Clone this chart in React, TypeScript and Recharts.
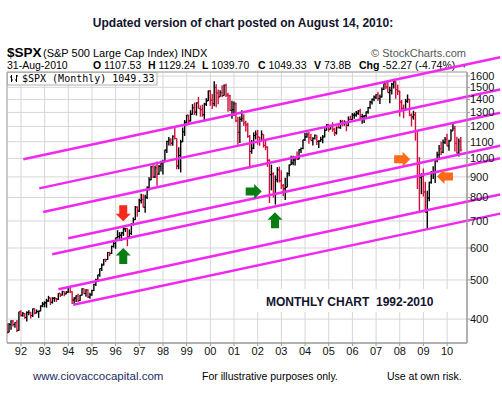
import {
  ComposedChart,
  Bar,
  XAxis,
  YAxis,
  CartesianGrid,
  ReferenceLine,
  ReferenceDot,
  ReferenceArea,
} from "recharts";

// first bar is June 1991, one bar per month up to Aug 2010
const startYear = 1991;
const startMonth = 6;
const firstOpen = 389.83;

const closes = [
  371.16, 387.81, 395.43, 387.86, 392.46, 375.22, 417.09,
  408.79, 412.7, 403.69, 414.95, 415.35, 408.14, 424.21, 414.03, 417.8, 418.68, 431.35, 435.71,
  438.78, 443.38, 451.67, 440.19, 450.19, 450.53, 448.13, 463.56, 458.93, 467.83, 461.79, 466.45,
  481.61, 467.14, 445.77, 450.91, 456.5, 444.27, 458.26, 475.49, 462.69, 472.35, 453.69, 459.27,
  470.42, 487.39, 500.71, 514.71, 533.4, 544.75, 562.06, 561.88, 584.41, 581.5, 605.37, 615.93,
  636.02, 640.43, 645.5, 654.17, 669.12, 670.63, 639.95, 651.99, 687.31, 705.27, 757.02, 740.74,
  786.16, 790.82, 757.12, 801.34, 848.28, 885.14, 954.31, 899.47, 947.28, 914.62, 955.4, 970.43,
  980.28, 1049.34, 1101.75, 1111.75, 1090.82, 1133.84, 1120.67, 957.28, 1017.01, 1098.67, 1163.63, 1229.23,
  1279.64, 1238.33, 1286.37, 1335.18, 1301.84, 1372.71, 1328.72, 1320.41, 1282.71, 1362.93, 1388.91, 1469.25,
  1394.46, 1366.42, 1498.58, 1452.43, 1420.6, 1454.6, 1430.83, 1517.68, 1436.51, 1429.4, 1314.95, 1320.28,
  1366.01, 1239.94, 1160.33, 1249.46, 1255.82, 1224.42, 1211.23, 1133.58, 1040.94, 1059.78, 1139.45, 1148.08,
  1130.2, 1106.73, 1147.39, 1076.92, 1067.14, 989.82, 911.62, 916.07, 815.28, 885.76, 936.31, 879.82,
  855.7, 841.15, 848.18, 916.92, 963.59, 974.5, 990.31, 1008.01, 995.97, 1050.71, 1058.2, 1111.92,
  1131.13, 1144.94, 1126.21, 1107.3, 1120.68, 1140.84, 1101.72, 1104.24, 1114.58, 1130.2, 1173.82, 1211.92,
  1181.27, 1203.6, 1180.59, 1156.85, 1191.5, 1191.33, 1234.18, 1220.33, 1228.81, 1207.01, 1249.48, 1248.29,
  1280.08, 1280.66, 1294.87, 1310.61, 1270.09, 1270.2, 1276.66, 1303.82, 1335.85, 1377.94, 1400.63, 1418.3,
  1438.24, 1406.82, 1420.86, 1482.37, 1530.62, 1503.35, 1455.27, 1473.99, 1526.75, 1549.38, 1481.14, 1468.36,
  1378.55, 1330.63, 1322.7, 1385.59, 1400.38, 1280.0, 1267.38, 1282.83, 1166.36, 968.75, 896.24, 903.25,
  825.88, 735.09, 797.87, 872.81, 919.14, 919.32, 987.48, 1020.62, 1057.08, 1036.19, 1095.63, 1115.1,
  1073.87, 1104.49, 1169.43, 1186.69, 1089.41, 1030.71, 1101.6, 1049.33,
];

const highs = [
  389.8, 391.3, 397.5, 397.8, 393.0, 398.2, 417.1,
  420.8, 416.2, 413.9, 418.4, 420.9, 416.8, 424.8, 425.1, 422.4, 419.8, 432.2, 441.3,
  442.7, 448.9, 456.7, 451.9, 453.5, 453.6, 451.2, 463.6, 463.6, 470.4, 468.6, 468.6,
  482.9, 482.9, 468.8, 453.1, 458.0, 462.1, 459.0, 476.6, 476.0, 474.0, 474.5, 465.0,
  472.8, 489.2, 503.2, 515.0, 534.0, 549.4, 563.8, 564.5, 586.7, 587.3, 608.4, 622.9,
  636.2, 664.2, 656.9, 657.9, 680.1, 673.3, 672.7, 667.0, 690.9, 714.1, 762.1, 761.8,
  794.7, 817.7, 814.9, 812.9, 851.9, 898.7, 957.7, 961.3, 960.5, 983.1, 963.6, 986.3,
  992.7, 1051.0, 1105.7, 1130.5, 1122.1, 1141.0, 1190.6, 1121.0, 1066.1, 1112.4, 1192.7, 1244.9,
  1280.5, 1282.7, 1316.6, 1362.8, 1375.0, 1376.8, 1420.3, 1352.3, 1359.2, 1373.2, 1410.0, 1473.1,
  1478.0, 1444.6, 1552.9, 1527.2, 1481.5, 1474.6, 1517.3, 1525.2, 1530.1, 1454.8, 1438.5, 1389.0,
  1383.4, 1376.4, 1267.4, 1269.3, 1315.9, 1286.6, 1239.8, 1226.3, 1143.6, 1110.6, 1160.5, 1173.0,
  1176.6, 1130.2, 1173.0, 1147.8, 1106.6, 1070.7, 994.5, 965.0, 924.0, 907.4, 951.6, 954.3,
  935.1, 864.6, 895.9, 924.2, 965.4, 1015.3, 1015.4, 1011.0, 1040.3, 1053.8, 1063.7, 1112.6,
  1155.4, 1158.9, 1163.2, 1150.6, 1127.7, 1146.3, 1140.8, 1108.6, 1131.5, 1142.1, 1188.5, 1217.3,
  1217.8, 1212.4, 1229.1, 1191.9, 1199.6, 1219.6, 1246.0, 1245.9, 1243.1, 1233.3, 1270.6, 1275.8,
  1294.9, 1297.6, 1310.9, 1318.2, 1326.7, 1290.7, 1280.4, 1306.7, 1340.3, 1389.5, 1407.9, 1431.8,
  1441.6, 1461.6, 1438.9, 1498.0, 1532.4, 1540.6, 1555.9, 1503.9, 1538.7, 1576.1, 1552.8, 1523.6,
  1471.8, 1396.0, 1359.7, 1404.6, 1440.2, 1404.1, 1292.2, 1313.2, 1303.0, 1167.0, 1007.5, 918.9,
  943.9, 875.0, 832.0, 875.6, 930.2, 956.2, 996.7, 1039.5, 1080.2, 1101.4, 1113.7, 1130.4,
  1150.5, 1112.4, 1180.2, 1219.8, 1205.1, 1131.2, 1120.0, 1129.2,
];

const lows = [
  368.6, 371.1, 376.5, 383.6, 380.6, 371.4, 374.1,
  406.0, 405.6, 400.7, 394.5, 409.0, 401.3, 404.5, 410.9, 413.5, 402.7, 418.3, 427.9,
  427.9, 426.9, 441.4, 433.5, 436.9, 441.4, 441.2, 446.3, 453.6, 457.5, 455.9, 460.8,
  464.9, 464.3, 436.2, 435.9, 440.9, 441.1, 443.5, 457.7, 461.0, 454.4, 450.8, 448.9,
  457.2, 469.6, 483.2, 500.2, 509.3, 526.2, 543.0, 553.9, 560.6, 572.7, 579.7, 601.2,
  597.3, 633.7, 627.6, 624.1, 642.7, 657.6, 605.9, 638.5, 646.1, 682.2, 703.6, 716.7,
  737.0, 773.4, 756.1, 733.5, 793.2, 832.9, 883.5, 894.2, 894.6, 855.3, 911.0, 928.0,
  912.8, 980.3, 1032.1, 1076.7, 1074.4, 1074.7, 1114.3, 939.9, 939.9, 923.3, 1098.7, 1136.9,
  1205.5, 1211.7, 1234.8, 1282.8, 1281.4, 1277.0, 1328.5, 1268.7, 1268.4, 1233.7, 1348.6, 1387.4,
  1350.1, 1325.1, 1346.6, 1339.4, 1361.1, 1420.6, 1416.5, 1429.1, 1419.4, 1305.8, 1311.4, 1254.1,
  1274.6, 1228.3, 1081.2, 1091.9, 1232.0, 1203.0, 1165.5, 1124.9, 944.8, 1026.8, 1054.3, 1114.3,
  1081.7, 1074.4, 1106.7, 1063.5, 1048.0, 952.9, 775.7, 833.4, 800.2, 768.6, 872.1, 871.8,
  840.3, 806.3, 788.9, 847.9, 902.8, 963.6, 962.1, 960.8, 990.4, 995.9, 1031.2, 1053.4,
  1105.1, 1124.4, 1087.2, 1107.2, 1076.3, 1113.3, 1078.8, 1060.7, 1099.2, 1090.2, 1127.6, 1173.8,
  1163.8, 1180.3, 1163.7, 1136.2, 1146.2, 1188.3, 1183.6, 1201.1, 1205.4, 1168.2, 1201.1, 1246.6,
  1245.7, 1253.6, 1268.4, 1280.7, 1245.3, 1219.3, 1224.5, 1261.3, 1290.9, 1327.1, 1360.9, 1385.9,
  1403.9, 1389.1, 1363.9, 1416.4, 1476.7, 1484.2, 1454.3, 1370.6, 1439.3, 1489.6, 1406.1, 1435.7,
  1270.1, 1316.8, 1256.9, 1324.4, 1373.1, 1272.0, 1200.4, 1247.5, 1106.4, 839.8, 741.0, 815.7,
  804.5, 734.5, 666.8, 783.3, 866.1, 888.9, 869.3, 978.5, 991.0, 1019.9, 1029.4, 1085.9,
  1071.6, 1044.5, 1105.4, 1170.7, 1040.8, 1028.3, 1010.9, 1039.7,
];

const yearTicks = [
  1992, 1993, 1994, 1995, 1996, 1997, 1998, 1999, 2000, 2001,
  2002, 2003, 2004, 2005, 2006, 2007, 2008, 2009, 2010,
];
const priceTicks = [400, 500, 600, 700, 800, 900, 1000, 1100, 1200, 1300, 1400, 1500, 1600];

// hand drawn channel lines: [year, price] at each end
const channelStarts = [
  [1992.1, 995], [1992.77, 843], [1992.94, 737], [1994.0, 634],
  [1993.32, 579], [1993.58, 474], [1994.21, 434],
];
const channelEnds = [
  [2012.24, 1781], [2012.24, 1481], [2012.24, 1298], [2012.24, 1075],
  [2012.24, 1001], [2012.24, 814], [2012.24, 730],
];

const arrows = [
  { t: 1996.32, p: 731, dir: "down", color: "#f8281a" },
  { t: 1996.32, p: 573, dir: "up", color: "#0a7d12" },
  { t: 2001.83, p: 828, dir: "right", color: "#0a7d12" },
  { t: 2002.73, p: 703, dir: "up", color: "#0a7d12" },
  { t: 2008.1, p: 995, dir: "right", color: "#ff6a14" },
  { t: 2009.91, p: 902, dir: "left", color: "#ff6a14" },
];

const xDomain = [1991.41, 2010.84];
const yDomain = [349, 1637];

const bars = closes.map((close, i) => ({
  t: startYear + (startMonth - 1 + i) / 12,
  range: [lows[i], highs[i]],
  open: i === 0 ? firstOpen : closes[i - 1],
  close,
  high: highs[i],
  low: lows[i],
}));

const font = '"Liberation Sans", Arial, sans-serif';

function OhlcBar(props: any) {
  const { x, y, width, height, payload } = props;
  if (!payload || height == null) return null;
  const top = Math.min(y, y + height);
  const h = Math.abs(height);
  const cx = x + width / 2;
  const lh = Math.log(payload.high);
  const ll = Math.log(payload.low);
  const at = (v: number) => top + (h * (lh - Math.log(v))) / (lh - ll || 1);
  const color = payload.close >= payload.open ? "#000" : "#d0103a";
  return (
    <g>
      <line x1={cx} x2={cx} y1={top} y2={top + h} stroke={color} strokeWidth={1.4} />
      <line x1={cx - 1.5} x2={cx} y1={at(payload.open)} y2={at(payload.open)} stroke={color} strokeWidth={1} />
      <line x1={cx} x2={cx + 1.5} y1={at(payload.close)} y2={at(payload.close)} stroke={color} strokeWidth={1} />
    </g>
  );
}

// block arrow, drawn pointing up then turned
const arrowUp = [
  [0, -8], [7.5, -0.5], [4, -0.5], [4, 8], [-4, 8], [-4, -0.5], [-7.5, -0.5],
];

function turn(pt: number[], dir: string) {
  const [x, y] = pt;
  if (dir === "down") return [x, -y];
  if (dir === "right") return [-y, x];
  if (dir === "left") return [y, -x];
  return [x, y];
}

function arrowShape(dir: string, color: string) {
  return (props: any) => {
    const { cx, cy } = props;
    const pts = arrowUp
      .map((p) => turn(p, dir))
      .map(([px, py]) => `${cx + px},${cy + py}`)
      .join(" ");
    return <polygon points={pts} fill={color} />;
  };
}

function Header() {
  const t = { fontFamily: font, fontSize: 11, fill: "#000" };
  const b = { ...t, fontWeight: 700 };
  const s = { ...t, fontSize: 10.5 };
  const sb = { ...s, fontWeight: 700 };
  return (
    <svg width={502} height={398} style={{ position: "absolute", left: 0, top: 0 }}>
      <text x={243} y={27} textAnchor="middle" style={{ ...b, fontSize: 12, fill: "#14142e" }}>
        Updated version of chart posted on August 14, 2010:
      </text>
      <text x={7} y={56.5} style={{ ...b, fontSize: 13.5 }}>$SPX</text>
      <text x={43} y={56.5} style={t}>(S&amp;P 500 Large Cap Index) INDX</text>
      <text x={466} y={56.5} textAnchor="end" style={{ ...t, fill: "#555" }}>© StockCharts.com</text>
      <text x={7} y={68.5} style={s}>31-Aug-2010</text>
      <text x={93} y={68.5} style={s}><tspan style={sb}>O</tspan> 1107.53</text>
      <text x={148} y={68.5} style={s}><tspan style={sb}>H</tspan> 1129.24</text>
      <text x={202} y={68.5} style={s}><tspan style={sb}>L</tspan> 1039.70</text>
      <text x={258} y={68.5} style={s}><tspan style={sb}>C</tspan> 1049.33</text>
      <text x={314} y={68.5} style={s}><tspan style={sb}>V</tspan> 73.8B</text>
      <text x={359} y={68.5} style={s}><tspan style={sb}>Chg</tspan> -52.27 (-4.74%)</text>
      <text x={461} y={68} style={{ ...t, fontSize: 6.5, fill: "#444" }}>▼</text>
      <text x={33} y={380} style={{ ...t, fontSize: 11.5, fill: "#1d2b62" }}>www.ciovaccocapital.com</text>
      <text x={202} y={380} style={{ ...t, fontSize: 10.5 }}>For illustrative purposes only.</text>
      <text x={387} y={380} style={{ ...t, fontSize: 10.5 }}>Use at own risk.</text>
    </svg>
  );
}

function Overlay() {
  return (
    <svg width={502} height={398} style={{ position: "absolute", left: 0, top: 0, pointerEvents: "none" }}>
      <rect x={7.5} y={72.5} width={149.5} height={12.5} fill="#fff" stroke="#b0b0b0" />
      <g stroke="#000" strokeWidth={1}>
        <line x1={11.5} x2={11.5} y1={75} y2={82} />
        <line x1={10} x2={11.5} y1={77} y2={77} />
        <line x1={11.5} x2={13} y1={80} y2={80} />
        <line x1={16.5} x2={16.5} y1={75} y2={82} />
        <line x1={15} x2={16.5} y1={80} y2={80} />
        <line x1={16.5} x2={18} y1={76} y2={76} />
      </g>
      <text x={22} y={81.5} style={{ fontFamily: '"DejaVu Sans Mono", monospace', fontSize: 10, fill: "#000" }}>
        $SPX (Monthly) 1049.33
      </text>
      <rect x={252} y={289} width={203} height={23} fill="#fff" />
      <text
        x={266}
        y={306}
        style={{ fontFamily: font, fontSize: 12, fontWeight: 700, fill: "#14142e", whiteSpace: "pre" }}
      >
        MONTHLY CHART  1992-2010
      </text>
    </svg>
  );
}

export default function App() {
  return (
    <div
      style={{
        position: "absolute",
        left: 0,
        top: 0,
        width: 502,
        height: 398,
        background: "#fff",
        overflow: "hidden",
      }}
    >
      <Header />
      <div style={{ position: "absolute", left: 0, top: 0 }}>
        <ComposedChart
          width={502}
          height={398}
          data={bars}
          margin={{ top: 72, right: 0, left: 7, bottom: 35 }}
        >
          <CartesianGrid stroke="#d6d6d6" />
          <XAxis
            type="number"
            dataKey="t"
            domain={xDomain}
            allowDataOverflow
            ticks={yearTicks}
            interval={0}
            height={20}
            tickFormatter={(v: number) => String(v).slice(2)}
            tick={{ fontSize: 11, fill: "#111", fontFamily: font }}
            stroke="#999"
            tickSize={3}
            tickMargin={1}
          />
          <YAxis
            orientation="right"
            scale="log"
            domain={yDomain}
            allowDataOverflow
            ticks={priceTicks}
            interval={0}
            width={35}
            tick={{ fontSize: 11, fill: "#111", fontFamily: font, textAnchor: "start" }}
            stroke="#999"
            tickSize={3}
            tickMargin={0}
          />
          <ReferenceArea
            x1={xDomain[0]}
            x2={xDomain[1]}
            y1={yDomain[0]}
            y2={yDomain[1]}
            fill="none"
            stroke="#a8a8a8"
          />
          <Bar dataKey="range" barSize={2} shape={OhlcBar} isAnimationActive={false} />
          {channelStarts.map((s, i) => (
            <ReferenceLine
              key={i}
              segment={[
                { x: s[0], y: s[1] },
                { x: channelEnds[i][0], y: channelEnds[i][1] },
              ]}
              stroke="#f028f0"
              strokeWidth={2.5}
              ifOverflow="visible"
            />
          ))}
          {arrows.map((a, i) => (
            <ReferenceDot
              key={"a" + i}
              x={a.t}
              y={a.p}
              r={8}
              shape={arrowShape(a.dir, a.color)}
            />
          ))}
        </ComposedChart>
      </div>
      <Overlay />
    </div>
  );
}
